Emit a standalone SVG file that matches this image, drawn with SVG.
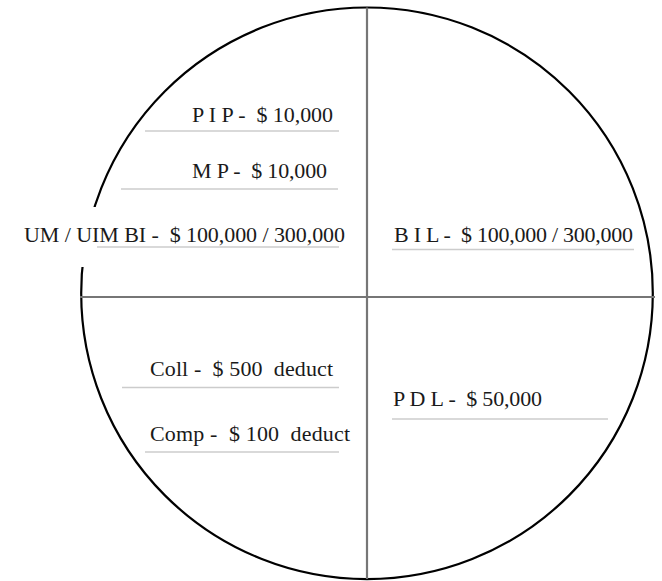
<svg xmlns="http://www.w3.org/2000/svg" width="662" height="581" viewBox="0 0 662 581" xml:space="preserve">
<style>
.lbl{font-family:"Liberation Serif","Times New Roman",serif;font-size:22px;fill:#1a1a1a;white-space:pre}
.ul{stroke:#cccccc;stroke-width:1.6;fill:none}
.axis{stroke:#767676;stroke-width:2.2;fill:none}
</style>
<rect width="662" height="581" fill="#ffffff"/>
<g id="circle">
<circle cx="367" cy="293.3" r="285.8" fill="none" stroke="#000000" stroke-width="2.2"/>
</g>
<g id="connectors">
<line class="axis" x1="367" y1="7.5" x2="367" y2="579"/>
<line class="axis" x1="80" y1="297" x2="655" y2="297"/>
</g>
<g id="pip">
<text class="lbl" x="192" y="121.5" textLength="141" lengthAdjust="spacing">P I P -  $ 10,000</text>
<line class="ul" x1="145" y1="131" x2="339" y2="131"/>
</g>
<g id="mp">
<text class="lbl" x="192" y="177.5" textLength="135" lengthAdjust="spacing">M P -  $ 10,000</text>
<line class="ul" x1="121" y1="189" x2="338" y2="189"/>
</g>
<g id="um">
<rect x="20" y="207" width="328" height="60" fill="#ffffff"/>
<text class="lbl" x="24" y="241.5" textLength="321" lengthAdjust="spacing">UM / UIM BI -  $ 100,000 / 300,000</text>
<line class="ul" x1="97" y1="247" x2="339" y2="247"/>
</g>
<g id="bil">
<text class="lbl" x="394" y="241.5" textLength="239" lengthAdjust="spacing">B I L -  $ 100,000 / 300,000</text>
<line class="ul" x1="392" y1="249.5" x2="634" y2="249.5"/>
</g>
<g id="coll">
<text class="lbl" x="150" y="376" textLength="183" lengthAdjust="spacing">Coll -  $ 500  deduct</text>
<line class="ul" x1="122" y1="387.5" x2="339" y2="387.5"/>
</g>
<g id="comp">
<text class="lbl" x="150" y="440.5" textLength="200" lengthAdjust="spacing">Comp -  $ 100  deduct</text>
<line class="ul" x1="145" y1="452" x2="339" y2="452"/>
</g>
<g id="pdl">
<text class="lbl" x="393" y="406" textLength="149" lengthAdjust="spacing">P D L -  $ 50,000</text>
<line class="ul" x1="392" y1="419" x2="608" y2="419"/>
</g>
</svg>
